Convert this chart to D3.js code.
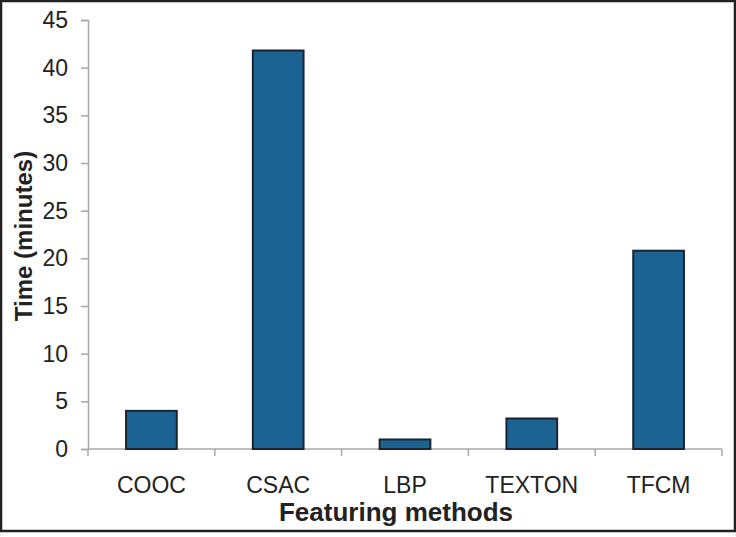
<!DOCTYPE html>
<html>
<head>
<meta charset="utf-8">
<script src="https://cdn.jsdelivr.net/npm/d3@7"></script>
<style>
  html, body { margin: 0; padding: 0; background: #fff; }
  svg { display: block; font-family: "Liberation Sans", Arial, sans-serif; }
</style>
</head>
<body>
<svg id="chart" width="736" height="537"></svg>
<script>
const categories = ["COOC", "CSAC", "LBP", "TEXTON", "TFCM"];
const times = [4.0, 41.8, 1.0, 3.2, 20.8];
const yTicks = [0, 5, 10, 15, 20, 25, 30, 35, 40, 45];

const svg = d3.select("#chart");
const width = +svg.attr("width");
const height = +svg.attr("height");
const margin = { top: 20, right: 14, bottom: 89, left: 88 };

// outer frame
svg.append("rect")
  .attr("x", 1).attr("y", 1)
  .attr("width", width - 2).attr("height", height - 7)
  .attr("fill", "#fff")
  .attr("stroke", "#222")
  .attr("stroke-width", 2.5);

const x = d3.scaleBand()
  .domain(categories)
  .range([margin.left, width - margin.right])
  .paddingInner(0.6)
  .paddingOuter(0.3);

const y = d3.scaleLinear()
  .domain([0, 45])
  .range([height - margin.bottom + 1, margin.top]);

// y axis
const yAxis = svg.append("g")
  .attr("transform", `translate(${margin.left},0)`)
  .call(d3.axisLeft(y).tickValues(yTicks).tickSize(7).tickPadding(13));
yAxis.select(".domain").attr("stroke", "#a8a8a8").attr("stroke-width", 1.5);
yAxis.selectAll(".tick line").attr("stroke", "#a8a8a8").attr("stroke-width", 1.5);
yAxis.selectAll(".tick text")
  .attr("font-size", 23)
  .attr("fill", "#222");

// x axis: ticks at band boundaries
const step = x.step();
const bounds = d3.range(categories.length + 1).map(i => margin.left + i * step);
const xg = svg.append("g");
xg.append("line")
  .attr("x1", margin.left).attr("x2", bounds[bounds.length - 1])
  .attr("y1", y(0)).attr("y2", y(0))
  .attr("stroke", "#a8a8a8").attr("stroke-width", 1.5);
xg.selectAll("line.tk")
  .data(bounds)
  .join("line")
  .attr("class", "tk")
  .attr("x1", d => d).attr("x2", d => d)
  .attr("y1", y(0)).attr("y2", y(0) + 7)
  .attr("stroke", "#a8a8a8").attr("stroke-width", 1.5);
xg.selectAll("text")
  .data(categories)
  .join("text")
  .attr("x", d => x(d) + x.bandwidth() / 2)
  .attr("y", 493)
  .attr("text-anchor", "middle")
  .attr("font-size", 23)
  .attr("fill", "#222")
  .text(d => d);

// bars
svg.append("g")
  .selectAll("rect")
  .data(times)
  .join("rect")
  .attr("x", (d, i) => x(categories[i]))
  .attr("y", d => y(d))
  .attr("width", x.bandwidth())
  .attr("height", d => y(0) - y(d))
  .attr("fill", "#1b6393")
  .attr("stroke", "#1a2330")
  .attr("stroke-width", 2);

// axis titles
svg.append("text")
  .attr("x", 396)
  .attr("y", 521)
  .attr("text-anchor", "middle")
  .attr("font-size", 26)
  .attr("font-weight", "bold")
  .attr("fill", "#222")
  .text("Featuring methods");

svg.append("text")
  .attr("transform", "translate(32,236) rotate(-90)")
  .attr("text-anchor", "middle")
  .attr("font-size", 24)
  .attr("font-weight", "bold")
  .attr("fill", "#222")
  .text("Time (minutes)");
</script>
</body>
</html>
